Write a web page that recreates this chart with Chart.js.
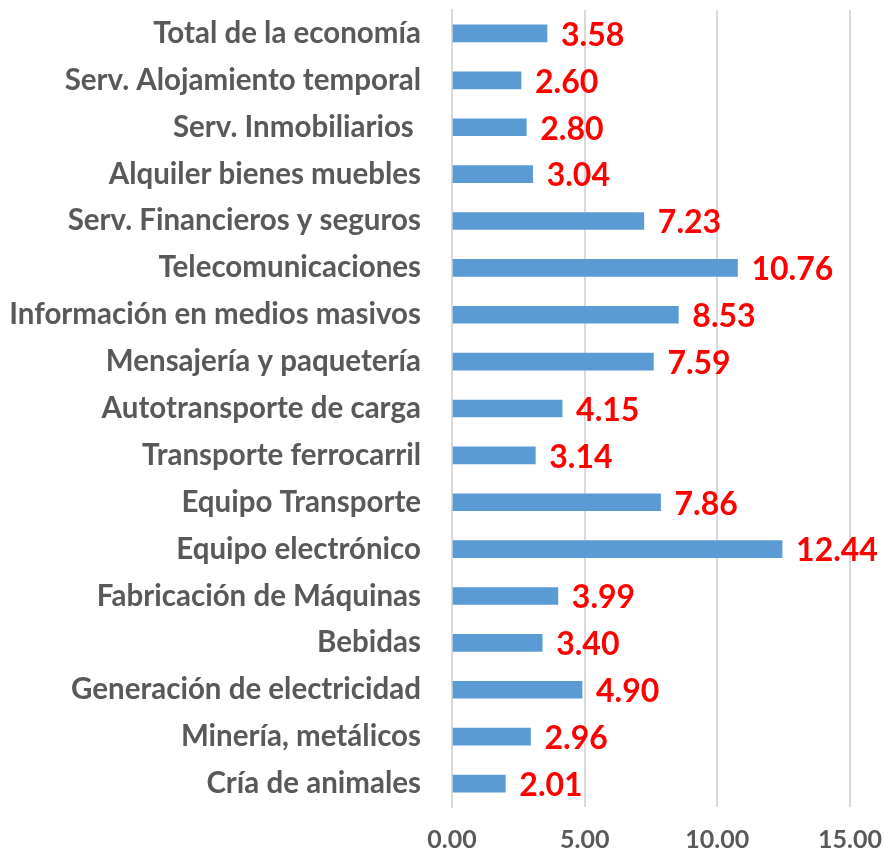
<!DOCTYPE html>
<html>
<head>
<meta charset="utf-8">
<script src="https://cdn.jsdelivr.net/npm/chart.js@4"></script>
<style>
  html, body { margin: 0; padding: 0; background: #fff; }
  canvas { display: block; }
</style>
</head>
<body>
<canvas id="chart" width="884" height="852"></canvas>
<script>
const categories = [
  'Total de la economía', 'Serv. Alojamiento temporal', 'Serv. Inmobiliarios ',
  'Alquiler bienes muebles', 'Serv. Financieros y seguros', 'Telecomunicaciones',
  'Información en medios masivos', 'Mensajería y paquetería', 'Autotransporte de carga',
  'Transporte ferrocarril', 'Equipo Transporte', 'Equipo electrónico',
  'Fabricación de Máquinas', 'Bebidas', 'Generación de electricidad',
  'Minería, metálicos', 'Cría de animales'
];
const values = [3.58, 2.60, 2.80, 3.04, 7.23, 10.76, 8.53, 7.59, 4.15, 3.14, 7.86, 12.44, 3.99, 3.40, 4.90, 2.96, 2.01];
const xTicks = [0, 5, 10, 15];

const FONT = 'Lato, "Open Sans", sans-serif';

// red value labels after each bar
const valueLabels = {
  id: 'valueLabels',
  afterDatasetsDraw(chart) {
    const ctx = chart.ctx;
    const meta = chart.getDatasetMeta(0);
    ctx.save();
    ctx.font = 'bold 32px ' + FONT;
    ctx.fillStyle = '#ff0000';
    ctx.textAlign = 'left';
    ctx.textBaseline = 'middle';
    meta.data.forEach((bar, i) => {
      ctx.fillText(values[i].toFixed(2), bar.x + 14, bar.y + 2);
    });
    ctx.restore();
  }
};

document.addEventListener('DOMContentLoaded', () => {
  const ctx = document.getElementById('chart').getContext('2d');
  new Chart(ctx, {
    type: 'bar',
    data: {
      labels: categories,
      datasets: [{
        data: values,
        backgroundColor: '#5b9bd5',
        barThickness: 17
      }]
    },
    options: {
      indexAxis: 'y',
      responsive: false,
      animation: false,
      layout: { padding: { top: 10, right: 34, bottom: 0, left: 0 } },
      plugins: {
        legend: { display: false },
        tooltip: { enabled: false }
      },
      scales: {
        x: {
          min: 0,
          max: 15,
          afterBuildTicks(scale) {
            scale.ticks = xTicks.map(v => ({ value: v }));
          },
          afterFit(scale) {
            scale.height = 45;
            scale.paddingLeft = 0;
            scale.paddingRight = 0;
          },
          grid: { color: '#d9d9d9', lineWidth: 2, drawTicks: false },
          border: { display: false },
          ticks: {
            padding: 18,
            color: '#595959',
            font: { family: FONT, size: 25, weight: 'bold' },
            callback: v => v.toFixed(2)
          }
        },
        y: {
          afterFit(scale) {
            scale.width = 452;
            scale.paddingTop = 0;
            scale.paddingBottom = 0;
          },
          grid: { display: false, drawTicks: false },
          border: { display: true, color: '#d9d9d9', width: 2 },
          ticks: {
            padding: 31,
            color: '#595959',
            font: { family: FONT, size: 29.5, weight: 'bold' },
            autoSkip: false
          }
        }
      }
    },
    plugins: [valueLabels]
  });
});
</script>
</body>
</html>
